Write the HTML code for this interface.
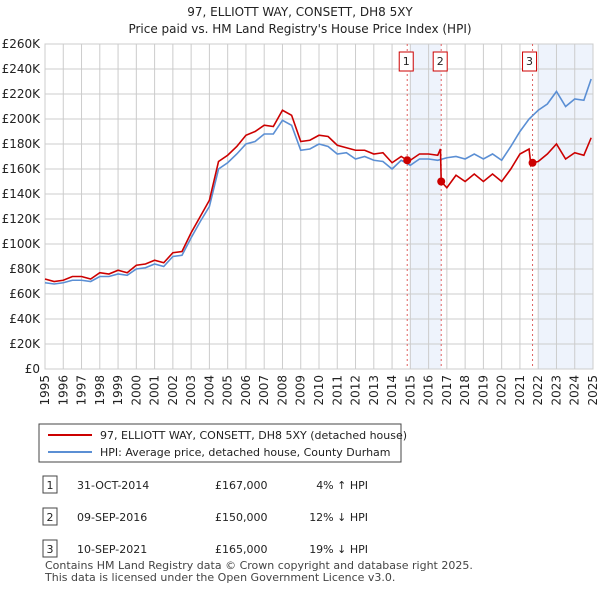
<!DOCTYPE html>
<html><head><meta charset="utf-8"><style>
body{margin:0;background:#fff;font-family:"Liberation Sans","DejaVu Sans",sans-serif;}
svg text{font-family:"DejaVu Sans","Liberation Sans",sans-serif;}
</style></head><body>
<svg id="c" width="600" height="590" xmlns="http://www.w3.org/2000/svg">
<text x="300" y="16" text-anchor="middle" font-size="12" fill="#222">97, ELLIOTT WAY, CONSETT, DH8 5XY</text>
<text x="300" y="33" text-anchor="middle" font-size="12" fill="#222">Price paid vs. HM Land Registry's House Price Index (HPI)</text>
<g id="plot"></g>
<g>
<rect x="39" y="424" width="362" height="38" fill="#fff" stroke="#444"/>
<line x1="48" y1="435" x2="92" y2="435" stroke="#cc0000" stroke-width="2"/>
<text x="100" y="439" font-size="11" fill="#222">97, ELLIOTT WAY, CONSETT, DH8 5XY (detached house)</text>
<line x1="48" y1="452" x2="92" y2="452" stroke="#5b8fd4" stroke-width="2"/>
<text x="100" y="456" font-size="11" fill="#222">HPI: Average price, detached house, County Durham</text>
</g>
<g id="tbl" font-size="11" fill="#222"></g>
<text x="45" y="569" font-size="11" fill="#444">Contains HM Land Registry data © Crown copyright and database right 2025.</text>
<text x="45" y="581" font-size="11" fill="#444">This data is licensed under the Open Government Licence v3.0.</text>
</svg>
<script>
const hpiYears=[1995,1995.5,1996,1996.5,1997,1997.5,1998,1998.5,1999,1999.5,2000,2000.5,2001,2001.5,2002,2002.5,2003,2003.5,2004,2004.5,2005,2005.5,2006,2006.5,2007,2007.5,2008,2008.5,2009,2009.5,2010,2010.5,2011,2011.5,2012,2012.5,2013,2013.5,2014,2014.5,2015,2015.5,2016,2016.5,2017,2017.5,2018,2018.5,2019,2019.5,2020,2020.5,2021,2021.5,2022,2022.5,2023,2023.5,2024,2024.5,2024.9];
const hpiValues=[69,68,69,71,71,70,74,74,76,75,80,81,84,82,90,91,105,118,130,160,165,172,180,182,188,188,199,195,175,176,180,178,172,173,168,170,167,166,160,167,163,168,168,167,169,170,168,172,168,172,167,178,190,200,207,212,222,210,216,215,232];
const priceYears=[1995,1995.5,1996,1996.5,1997,1997.5,1998,1998.5,1999,1999.5,2000,2000.5,2001,2001.5,2002,2002.5,2003,2003.5,2004,2004.5,2005,2005.5,2006,2006.5,2007,2007.5,2008,2008.5,2009,2009.5,2010,2010.5,2011,2011.5,2012,2012.5,2013,2013.5,2014,2014.5,2014.83,2015,2015.5,2016,2016.5,2016.65,2016.69,2017,2017.5,2018,2018.5,2019,2019.5,2020,2020.5,2021,2021.5,2021.6,2021.69,2022,2022.5,2023,2023.5,2024,2024.5,2024.9];
const priceValues=[72,70,71,74,74,72,77,76,79,77,83,84,87,85,93,94,109,122,135,166,171,178,187,190,195,194,207,203,182,183,187,186,179,177,175,175,172,173,165,170,167,167,172,172,171,176,150,145,155,150,156,150,156,150,160,172,176,163,165,166,172,180,168,173,171,185];
const saleLabels=["1","2","3"];
const saleYears=[2014.83,2016.69,2021.69];
const salePrices=[167000,150000,165000];
const saleDates=["31-OCT-2014","09-SEP-2016","10-SEP-2021"];
const saleHpi=["4% \u2191 HPI","12% \u2193 HPI","19% \u2193 HPI"];
const yTicks=[0,20,40,60,80,100,120,140,160,180,200,220,240,260];
const xTicks=[1995,1996,1997,1998,1999,2000,2001,2002,2003,2004,2005,2006,2007,2008,2009,2010,2011,2012,2013,2014,2015,2016,2017,2018,2019,2020,2021,2022,2023,2024,2025];
const NS="http://www.w3.org/2000/svg";
const X0=45,X1=593,Y0=369,Y1=44;
const xs=y=>X0+(y-1995)/30*(X1-X0);
const ys=v=>Y0-v/260*(Y0-Y1);
const plot=document.getElementById('plot');
function mk(t,a,p){const e=document.createElementNS(NS,t);for(const k in a)e.setAttribute(k,a[k]);(p||plot).appendChild(e);return e;}
// shading
let s1=mk('rect',{x:xs(2015),y:Y1,width:xs(saleYears[1])-xs(2015),height:Y0-Y1,fill:'#eef3fc'});


let s2=mk('rect',{x:xs(2022),y:Y1,width:X1-xs(2022),height:Y0-Y1,fill:'#eef3fc'});


yTicks.forEach(t=>{
 mk('line',{x1:X0,x2:X1,y1:ys(t),y2:ys(t),stroke:'#ccc'});
 const l=mk('text',{x:40,y:ys(t)+4,'text-anchor':'end','font-size':12,fill:'#222'});
 l.textContent=t===0?'£0':'£'+t+'K';
 
 
});
xTicks.forEach(t=>{
 mk('line',{x1:xs(t),x2:xs(t),y1:Y1,y2:Y0,stroke:'#ccc'});
 const l=mk('text',{x:0,y:0,'text-anchor':'end','font-size':12,fill:'#222',transform:`translate(${xs(t)+4},${Y0+6}) rotate(-90)`});
 l.textContent=t;
 
 
});
mk('rect',{x:X0,y:Y1,width:X1-X0,height:Y0-Y1,fill:'none',stroke:'#ccc'});
saleYears.forEach((y,i)=>{
 const v=mk('line',{x1:xs(y),x2:xs(y),y1:Y1,y2:Y0,stroke:'#e06060','stroke-dasharray':'2,3'});
 
 
 const b=mk('rect',{x:xs(y)-(i===2?10:8),y:52,width:14,height:19,fill:'#fff',stroke:'#cc0000'});
 
 
 const t=mk('text',{x:xs(y)-(i===2?3:1),y:65,'text-anchor':'middle','font-size':11,fill:'#222'});
 t.textContent=saleLabels[i];
});
const hp=mk('polyline',{points:hpiYears.map((y,i)=>xs(y)+','+ys(hpiValues[i])).join(' '),fill:'none',stroke:'#5b8fd4','stroke-width':1.6});


const pp=mk('polyline',{points:priceYears.map((y,i)=>xs(y)+','+ys(priceValues[i])).join(' '),fill:'none',stroke:'#cc0000','stroke-width':1.6});


saleYears.forEach((y,i)=>{
 const d=mk('circle',{cx:xs(y),cy:ys(salePrices[i]/1000),r:4,fill:'#cc0000'});
 
 
});
const tbl=document.getElementById('tbl');
saleYears.forEach((y,i)=>{
 const cy=486+i*32;
 const b=mk('rect',{x:43,y:cy-10,width:14,height:17,fill:'#fff',stroke:'#444'},tbl);
 
 
 const n=mk('text',{x:50,y:cy+3,'text-anchor':'middle'},tbl);n.textContent=saleLabels[i];
 const d=mk('text',{x:77,y:cy+3},tbl);d.textContent=saleDates[i];
 
 
 const p=mk('text',{x:215,y:cy+3},tbl);p.textContent='£'+salePrices[i].toLocaleString('en-GB');
 
 
 const h=mk('text',{x:368,y:cy+3,'text-anchor':'end'},tbl);h.textContent=saleHpi[i];
 
 
});
</script>
</body></html>
